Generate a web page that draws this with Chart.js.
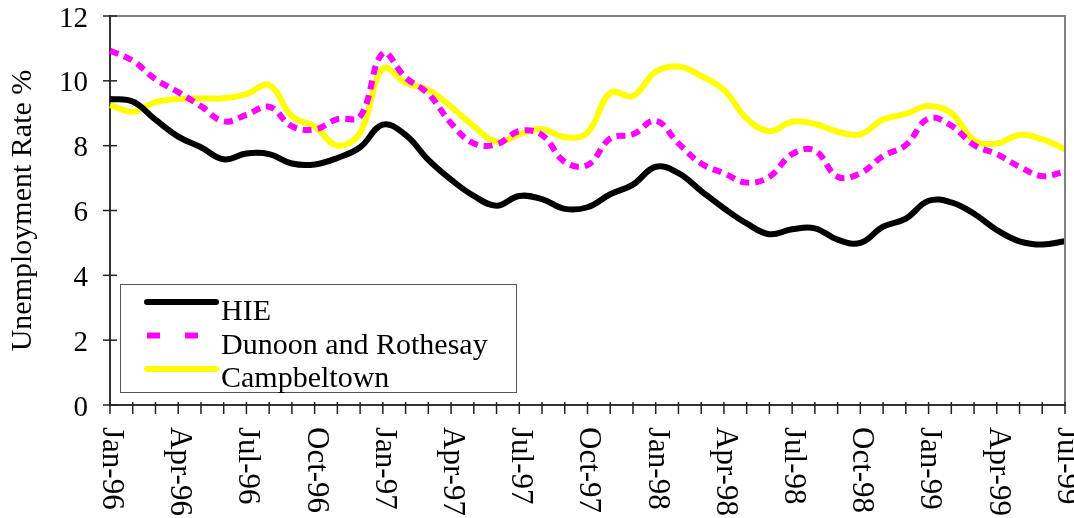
<!DOCTYPE html>
<html>
<head>
<meta charset="utf-8">
<script src="https://cdn.jsdelivr.net/npm/chart.js@4.4.0/dist/chart.umd.min.js"></script>
<style>
  html, body { margin: 0; padding: 0; background: #fff; }
  #wrap { width: 1074px; height: 518px; }
</style>
</head>
<body>
<div id="wrap"><canvas id="rateChart" width="1074" height="518"></canvas></div>
<script>
const months = [
  'Jan-96','Feb-96','Mar-96','Apr-96','May-96','Jun-96','Jul-96','Aug-96','Sep-96','Oct-96','Nov-96','Dec-96',
  'Jan-97','Feb-97','Mar-97','Apr-97','May-97','Jun-97','Jul-97','Aug-97','Sep-97','Oct-97','Nov-97','Dec-97',
  'Jan-98','Feb-98','Mar-98','Apr-98','May-98','Jun-98','Jul-98','Aug-98','Sep-98','Oct-98','Nov-98','Dec-98',
  'Jan-99','Feb-99','Mar-99','Apr-99','May-99','Jun-99','Jul-99'
];

const hieRate = [
  9.44, 9.36, 8.8, 8.28, 7.95, 7.58, 7.76, 7.74, 7.45, 7.42, 7.62, 7.95,
  8.65, 8.33, 7.56, 6.95, 6.45, 6.15, 6.45, 6.35, 6.05, 6.1, 6.5, 6.8,
  7.35, 7.15, 6.6, 6.07, 5.6, 5.27, 5.42, 5.45, 5.1, 5.0, 5.5, 5.75,
  6.3, 6.25, 5.9, 5.4, 5.05, 4.95, 5.05
];

const dunoonRate = [
  10.93, 10.62, 10.05, 9.65, 9.22, 8.75, 8.95, 9.2, 8.6, 8.5, 8.82, 8.9,
  10.85, 10.1, 9.6, 8.69, 8.07, 8.04, 8.45, 8.33, 7.5, 7.4, 8.22, 8.35,
  8.77, 8.07, 7.45, 7.15, 6.86, 7.04, 7.74, 7.85, 7.04, 7.15, 7.68, 8.02,
  8.84, 8.62, 8.02, 7.74, 7.35, 7.06, 7.2
];

const campbeltownRate = [
  9.25, 9.05, 9.34, 9.44, 9.46, 9.46, 9.59, 9.87, 8.91, 8.59, 8.0, 8.4,
  10.38, 9.94, 9.72, 9.2, 8.6, 8.12, 8.35, 8.51, 8.26, 8.4, 9.63, 9.53,
  10.28, 10.44, 10.15, 9.72, 8.84, 8.45, 8.74, 8.67, 8.43, 8.35, 8.81, 8.98,
  9.22, 9.0, 8.17, 8.07, 8.33, 8.2, 7.89
];

const serif = "'Liberation Serif', 'DejaVu Serif', serif";

// frame, crossing tick marks, clockwise x labels and boxed legend
const axisExtras = {
  id: 'axisExtras',
  afterDraw(chart) {
    const { ctx, chartArea: a, scales: { x, y } } = chart;
    const line = (x1, y1, x2, y2) => { ctx.beginPath(); ctx.moveTo(x1, y1); ctx.lineTo(x2, y2); ctx.stroke(); };
    ctx.save();

    ctx.strokeStyle = '#808080';
    ctx.lineWidth = 2;
    ctx.beginPath();
    ctx.moveTo(a.left, a.top);
    ctx.lineTo(a.right, a.top);
    ctx.lineTo(a.right, a.bottom);
    ctx.stroke();

    ctx.strokeStyle = '#222';
    ctx.lineWidth = 1.5;
    y.ticks.forEach((t, i) => { const py = y.getPixelForTick(i); line(a.left - 7, py, a.left + 7, py); });
    months.forEach((m, i) => { const px = x.getPixelForValue(i); line(px, a.bottom - 3, px, a.bottom + 9); });

    ctx.fillStyle = '#000';
    ctx.font = '31px ' + serif;
    ctx.textAlign = 'left';
    ctx.textBaseline = 'middle';
    months.forEach((m, i) => {
      if (i % 3) return;
      const px = x.getPixelForValue(i);
      ctx.save();
      ctx.translate(px + 1, a.bottom + 22);
      ctx.rotate(Math.PI / 2);
      ctx.fillText(m, 0, 0);
      ctx.restore();
    });

    // legend
    const bx = a.left + 10, by = 284, bw = 396, bh = 108;
    ctx.fillStyle = '#fff';
    ctx.fillRect(bx, by, bw, bh);
    ctx.strokeStyle = '#555';
    ctx.lineWidth = 1;
    ctx.strokeRect(bx + 0.5, by + 0.5, bw, bh);
    ctx.font = '30px ' + serif;
    ctx.textBaseline = 'alphabetic';
    chart.data.datasets.forEach((ds, i) => {
      const ly = by + 18 + i * 33.5;
      ctx.strokeStyle = ds.borderColor;
      ctx.lineWidth = 6;
      if (ds.borderDash) {
        ctx.lineCap = 'butt';
        ctx.setLineDash([13, 25]);
      } else {
        ctx.lineCap = 'round';
        ctx.setLineDash([]);
      }
      line(bx + 27, ly, bx + 96, ly);
      ctx.setLineDash([]);
      ctx.fillStyle = '#000';
      ctx.fillText(ds.label, bx + 101, ly + 18);
    });
    ctx.restore();
  }
};

const ctx = document.getElementById('rateChart').getContext('2d');
const chart = new Chart(ctx, {
  type: 'line',
  data: {
    labels: months,
    datasets: [
      { label: 'HIE', data: hieRate, borderColor: '#000000', borderWidth: 6 },
      { label: 'Dunoon and Rothesay', data: dunoonRate, borderColor: '#ff00ff', borderWidth: 6, borderDash: [9, 6] },
      { label: 'Campbeltown', data: campbeltownRate, borderColor: '#ffff00', borderWidth: 6 }
    ]
  },
  options: {
    responsive: false,
    animation: false,
    layout: { padding: { top: 16, right: 9, bottom: 0, left: 0 } },
    plugins: { legend: { display: false }, tooltip: { enabled: false } },
    elements: {
      point: { radius: 0 },
      line: { tension: 0.4, fill: false, borderJoinStyle: 'round' }
    },
    scales: {
      x: {
        offset: false,
        grid: { display: false, drawTicks: false },
        border: { color: '#333', width: 2 },
        ticks: { display: false },
        afterFit(s) { s.height = 113; s.paddingLeft = 0; s.paddingRight = 0; }
      },
      y: {
        min: 0, max: 12,
        grid: { display: false, drawTicks: true, tickLength: 7 },
        border: { color: '#333', width: 2 },
        ticks: { stepSize: 2, color: '#000', padding: 15, labelOffset: 3, font: { family: serif, size: 29, lineHeight: 1 } },
        title: { display: true, text: 'Unemployment Rate %', color: '#000', font: { family: serif, size: 30 }, padding: { top: 5, bottom: 0 } },
        afterFit(s) { s.width = 110; s.paddingTop = 0; s.paddingBottom = 0; }
      }
    }
  },
  plugins: [axisExtras]
});
</script>
</body>
</html>
